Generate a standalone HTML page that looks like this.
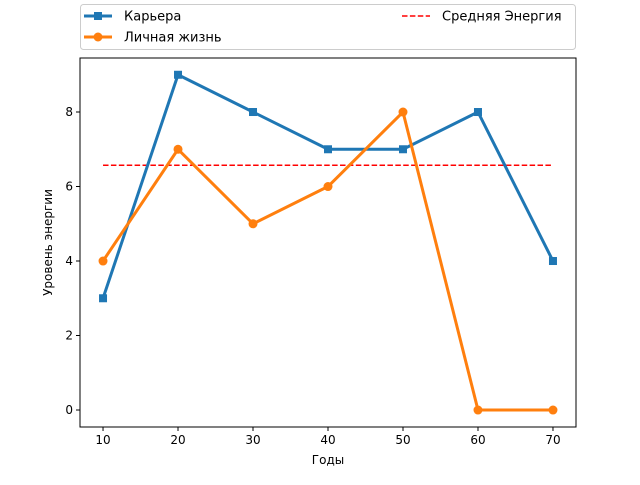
<!DOCTYPE html>
<html><head><meta charset="utf-8"><style>
body{margin:0;background:#fff;font-family:"Liberation Sans","DejaVu Sans",sans-serif;}
</style></head><body>
<svg id="chart" width="640" height="480" xmlns="http://www.w3.org/2000/svg" font-family="DejaVu Sans, Liberation Sans, sans-serif">
<rect width="640" height="480" fill="#fff"/>
<g id="plot"></g>
</svg>
<script>
const years = [10, 20, 30, 40, 50, 60, 70];
const career = [3, 9, 8, 7, 7, 8, 4];
const personal = [4, 7, 5, 6, 8, 0, 0];
const yTicks = [0, 2, 4, 6, 8];
const xTicks = [10, 20, 30, 40, 50, 60, 70];
const avg = career.reduce((a,b)=>a+b,0)/career.length;

const L=80,R=576,T=58,B=427;
const xMin=6.93,xMax=73.07,yMin=-0.456,yMax=9.45;
const sx=v=>L+(v-xMin)/(xMax-xMin)*(R-L);
const sy=v=>B-(v-yMin)/(yMax-yMin)*(B-T);
const NS="http://www.w3.org/2000/svg";
const g=document.getElementById('plot');
function mk(tag,attrs,parent){const e=document.createElementNS(NS,tag);for(const k in attrs)e.setAttribute(k,attrs[k]);(parent||g).appendChild(e);return e;}

let e=mk('line',{x1:sx(years[0]),x2:sx(years[years.length-1]),y1:sy(avg),y2:sy(avg),stroke:'#ff0000','stroke-width':1.5,'stroke-dasharray':'5.5,2.4'});



function series(vals,color,name,marker){
  const p=mk('polyline',{points:vals.map((v,i)=>sx(years[i])+','+sy(v)).join(' '),fill:'none',stroke:color,'stroke-width':3,'stroke-linejoin':'round'});
  
  
  vals.forEach((v,i)=>{
    let m;
    if(marker==='s') m=mk('rect',{x:sx(years[i])-4,y:sy(v)-4,width:8,height:8,fill:color});
    else m=mk('circle',{cx:sx(years[i]),cy:sy(v),r:4.5,fill:color});
    
    
  });
}
series(career,'#1f77b4','career','s');
series(personal,'#ff7f0e','personal','o');

e=mk('rect',{x:L,y:T,width:R-L,height:B-T,fill:'none',stroke:'#000','stroke-width':1});



xTicks.forEach(t=>{
  mk('line',{x1:sx(t),x2:sx(t),y1:B,y2:B+4,stroke:'#000'});
  const tx=mk('text',{x:sx(t),y:B+17,'font-size':12,'text-anchor':'middle'});tx.textContent=t;
  
  
});
yTicks.forEach(t=>{
  mk('line',{x1:L-4,x2:L,y1:sy(t),y2:sy(t),stroke:'#000'});
  const tx=mk('text',{x:L-7,y:sy(t)+4,'font-size':12,'text-anchor':'end'});tx.textContent=t;
  
  
});
e=mk('text',{x:(L+R)/2,y:464,'font-size':12,'text-anchor':'middle'});e.textContent='Годы';


e=mk('text',{x:0,y:0,'font-size':12,'text-anchor':'middle',transform:'translate(52,'+((T+B)/2)+') rotate(-90)'});e.textContent='Уровень энергии';



const lg=mk('g',{});


mk('rect',{x:80.5,y:4.5,width:495,height:45,rx:3,fill:'#fff',stroke:'#ccc'},lg);
function entry(x,y,color,label,marker,dash,name){
  const eg=mk('g',{},lg);
  
  
  mk('line',{x1:x,x2:x+28,y1:y,y2:y,stroke:color,'stroke-width':dash?1.5:3,'stroke-dasharray':dash?'5.5,2.4':'none'},eg);
  if(marker==='s') mk('rect',{x:x+10,y:y-4,width:8,height:8,fill:color},eg);
  if(marker==='o') mk('circle',{cx:x+14,cy:y,r:4.5,fill:color},eg);
  const t=mk('text',{x:x+40,y:y+4.5,'font-size':13},eg);t.textContent=label;
}
entry(84,16,'#1f77b4','Карьера','s',false,'legend-career');
entry(84,37,'#ff7f0e','Личная жизнь','o',false,'legend-personal');
entry(402,16,'#ff0000','Средняя Энергия',null,true,'legend-average');
</script>
</body></html>
